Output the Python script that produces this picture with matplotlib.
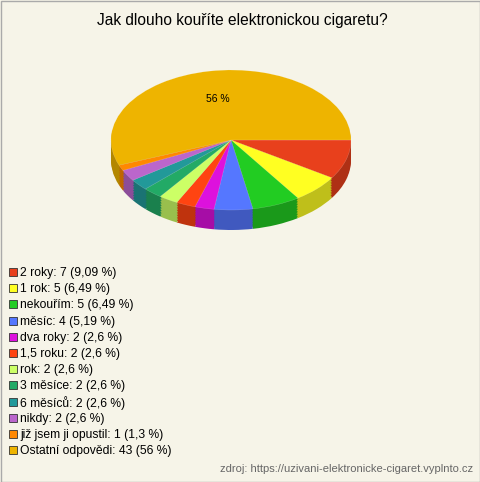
import matplotlib
matplotlib.use("Agg")
import matplotlib.pyplot as plt
from matplotlib.patches import Rectangle
import matplotlib.colors as mc

title = "Jak dlouho kouříte elektronickou cigaretu?"
labels = ["2 roky", "1 rok", "nekouřím", "měsíc", "dva roky", "1,5 roku", "rok",
          "3 měsíce", "6 měsíců", "nikdy", "již jsem ji opustil", "Ostatní odpovědi"]
values = [7, 5, 5, 4, 2, 2, 2, 2, 2, 2, 1, 43]
pcts = ["9,09 %", "6,49 %", "6,49 %", "5,19 %", "2,6 %", "2,6 %", "2,6 %",
        "2,6 %", "2,6 %", "2,6 %", "1,3 %", "56 %"]
colors = ["#E8401C", "#FFFF22", "#22CC22", "#5577FF", "#DD11DD", "#FF4411", "#CCFF66",
          "#22AA66", "#229999", "#BB66CC", "#FF8800", "#EEB400"]

def darker(c, f=0.75):
    r, g, b = mc.to_rgb(c)
    return (r * f, g * f, b * f)

W, H = 480, 482
fig = plt.figure(figsize=(W / 100, H / 100), dpi=100)
fig.patch.set_facecolor("#F6F4E8")
fig.add_artist(Rectangle((0.5 / W, 0.5 / H), 1 - 1 / W, 1 - 1 / H, transform=fig.transFigure,
                         fill=False, edgecolor="#AAAAAA", lw=1))
fig.text(242 / W, 1 - 20 / H, title, ha="center", va="center", fontsize=11.2, family="Liberation Sans")

left, top, wpx = 111, 70, 240
scale = 70.0
ylo = -1.3
hpx = (1 - ylo) * scale
ax = fig.add_axes([left / W, 1 - (top + hpx) / H, wpx / W, hpx / H])
thick = 20 / scale
n = 12
for i in range(n, 0, -1):
    off = -thick * i / n
    ax.pie(values, colors=[darker(c) for c in colors], startangle=0, counterclock=False,
           center=(0, off), radius=1, wedgeprops=dict(linewidth=0))
wedges, _, autot = ax.pie(values, colors=colors, startangle=0, counterclock=False,
                          center=(0, 0), radius=1, autopct=lambda p: "56 %" if p > 50 else "",
                          pctdistance=0.6, wedgeprops=dict(linewidth=0.3, edgecolor=(1, 1, 1, 0.3)),
                          textprops=dict(fontsize=7.5, family="Liberation Sans"))
ax.set_aspect("auto")
ax.set_xlim(-1, 1)
ax.set_ylim(ylo, 1)
ax.axis("off")

y0, step = 273, 16.2
for i, (lab, v, p, c) in enumerate(zip(labels, values, pcts, colors)):
    y = y0 + i * step
    fig.add_artist(Rectangle((9 / W, 1 - (y + 3) / H), 8 / W, 8 / H, transform=fig.transFigure,
                             facecolor=c, edgecolor="#333333", lw=0.6))
    fig.text(20 / W, 1 - y / H, f"{lab}: {v} ({p})", ha="left", va="center",
             fontsize=8.7, family="Liberation Sans")

fig.text(473 / W, 1 - 469 / H, "zdroj: https://uzivani-elektronicke-cigaret.vyplnto.cz",
         ha="right", va="center", fontsize=8, color="#666666", family="Liberation Sans")
fig.savefig("out.png", dpi=100, facecolor=fig.get_facecolor())
